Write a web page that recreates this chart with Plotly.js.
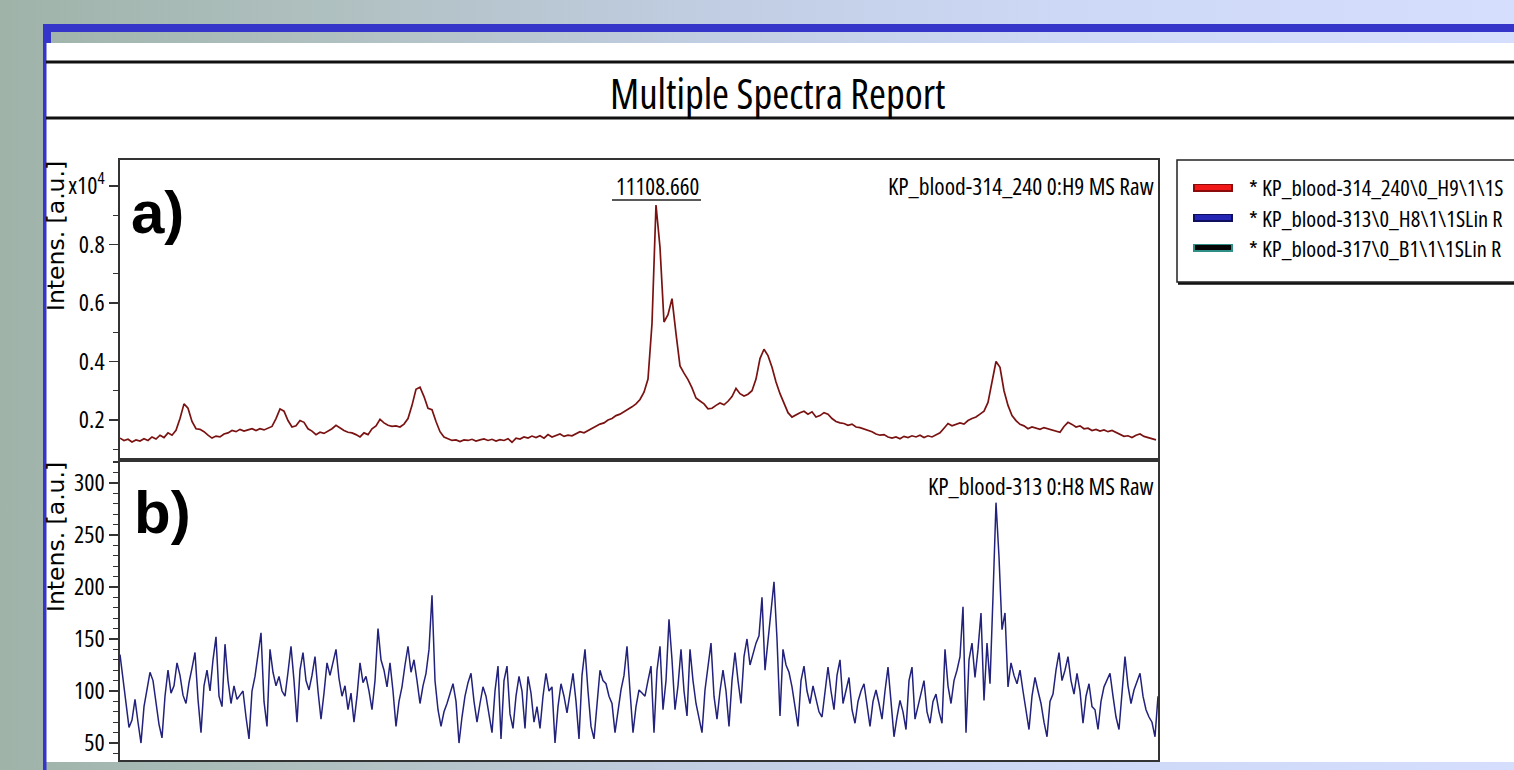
<!DOCTYPE html>
<html>
<head>
<meta charset="utf-8">
<script src="https://cdn.plot.ly/plotly-3.0.1.min.js"></script>
<style>
  html, body { margin: 0; padding: 0; width: 1514px; height: 770px; overflow: hidden; }
  body { background: linear-gradient(to right, #9fb3a9 0%, #aebfbe 20%, #c0cce0 45%, #cdd8f6 70%, #d5defd 100%); }
  #chart { width: 1514px; height: 770px; }
  text[style*="Open Sans"], tspan[style*="Open Sans"] { font-stretch: 75%; }
</style>
</head>
<body>
<div id="chart"></div>
<script>
// ---------------- DATA ----------------
// Spectrum a) KP_blood-314_240 0:H9 (intensity, a.u.), m/z grid starts at 2000, step ~67.8
const mzStartA = 2000;
const mzStepA = 67.823;
const intensA = [
  1380,1300,1340,1250,1320,1280,1360,1300,1420,1350,1480,1400,1560,1480,1650,
  2050,2550,2400,1950,1700,1680,1600,1480,1380,1450,1420,1520,1560,1640,1600,
  1680,1620,1660,1700,1640,1700,1660,1720,1780,2050,2380,2300,1980,1760,1800,
  1980,1920,1700,1620,1500,1580,1540,1620,1700,1820,1720,1640,1580,1560,1500,
  1420,1560,1500,1700,1800,2020,1900,1820,1780,1800,1760,1860,2050,2500,3050,
  3120,2800,2400,2350,1950,1600,1420,1360,1300,1320,1260,1320,1300,1340,1280,
  1320,1350,1300,1340,1280,1330,1300,1360,1240,1380,1350,1420,1380,1450,1400,
  1460,1380,1500,1420,1460,1520,1440,1480,1460,1540,1600,1560,1640,1700,1780,
  1860,1900,2000,2050,2150,2200,2280,2350,2450,2550,2700,2950,3400,5300,9350,
  7900,5350,5600,6150,4950,3850,3600,3380,3100,2750,2650,2550,2380,2400,2500,
  2580,2520,2640,2800,3080,2900,2820,2880,3000,3400,4100,4420,4200,3800,3300,
  2900,2550,2250,2100,2180,2250,2300,2200,2280,2100,2150,2250,2200,2050,1950,
  1900,1880,1820,1860,1760,1740,1700,1640,1600,1520,1480,1500,1420,1380,1420,
  1360,1440,1400,1460,1420,1480,1400,1460,1420,1500,1560,1720,1880,1800,1850,
  1900,1860,1980,2050,2100,2200,2300,2600,3300,4000,3800,3000,2500,2150,1980,
  1850,1800,1700,1760,1720,1680,1740,1700,1640,1600,1580,1780,1920,1850,1760,
  1800,1700,1720,1640,1680,1620,1660,1600,1640,1580,1500,1440,1460,1400,1480,
  1520,1440,1400,1360,1320
];

// Spectrum b) KP_blood-313 0:H8 (intensity, a.u.), m/z grid starts at 2000, step ~50.9
const mzStartB = 2000;
const mzStepB = 50.867;
const intensB = [
  135,110,90,65,72,92,70,50,85,100,118,110,88,68,55,95,120,98,105,127,
  115,96,88,108,122,137,92,60,105,120,100,130,152,95,85,145,110,88,105,92,
  96,100,75,54,100,114,135,156,90,66,140,118,105,114,100,95,118,143,110,70,
  120,137,110,101,115,133,100,73,98,127,115,128,140,112,95,105,82,98,70,95,
  127,108,114,100,82,110,160,130,120,104,127,100,66,90,104,125,143,118,130,110,
  88,105,117,140,192,110,82,66,80,88,98,107,90,50,75,95,108,117,90,70,
  88,104,95,75,60,100,124,54,110,124,78,64,95,114,100,64,114,98,70,85,
  64,95,117,100,104,50,85,107,95,79,100,117,90,54,115,140,100,66,54,90,
  120,110,107,95,88,60,80,101,115,143,100,60,85,101,98,95,110,124,60,120,
  143,82,110,169,130,82,105,140,100,76,140,110,88,75,60,101,125,146,95,73,
  100,120,100,66,110,137,110,88,133,150,125,135,146,153,190,120,149,175,205,150,
  76,140,125,118,104,85,66,110,124,100,88,105,91,80,75,100,123,100,82,115,
  130,88,100,113,82,69,90,100,107,85,66,90,101,88,73,100,123,90,56,75,
  91,80,63,110,123,73,85,100,110,80,69,90,97,80,69,140,105,88,110,120,
  133,181,60,130,146,113,140,175,91,146,107,191,281,229,159,175,104,127,115,107,
  120,100,82,63,95,113,100,88,70,56,90,97,120,137,110,120,133,110,97,117,
  100,69,95,107,85,82,63,90,104,110,117,95,75,63,100,133,105,88,101,110,
  117,95,82,75,70,56,95
];

// Tick labels
const tickValsA = [2000, 4000, 6000, 8000, 10000];
const tickTextA = ["0.2", "0.4", "0.6", "0.8", "x10<sup>4</sup>"];
const tickValsB = [50, 100, 150, 200, 250, 300];
const tickTextB = ["50", "100", "150", "200", "250", "300"];

// Texts
const reportTitle = "Multiple Spectra Report";
const spectrumNameA = "KP_blood-314_240 0:H9 MS Raw";
const spectrumNameB = "KP_blood-313 0:H8 MS Raw";
const peakLabelA = "11108.660";
const yTitle = "Intens. [a.u.]";
const legendNames = [
  "* KP_blood-314_240\\0_H9\\1\\1S",
  "* KP_blood-313\\0_H8\\1\\1SLin R",
  "* KP_blood-317\\0_B1\\1\\1SLin R"
];
const legendColors = [
  {outer: "#8c0a0a", inner: "#f01818"},
  {outer: "#0e0e5e", inner: "#2626b4"},
  {outer: "#2f8f86", inner: "#060606"}
];

// ---------------- LAYOUT HELPERS (page pixels -> paper fractions) ----------------
const W = 1514, H = 770;
const X = px => px / W;
const Y = py => 1 - py / H;

const NARROW = "Open Sans, Liberation Sans, sans-serif";   // condensed via CSS font-stretch
const WIDE = "DejaVu Sans, Liberation Sans, sans-serif";
const SANS = "Liberation Sans, Arial, sans-serif";

const traces = [
  {
    type: "scatter", mode: "lines", name: "KP_blood-314_240",
    x0: mzStartA, dx: mzStepA, y: intensA,
    xaxis: "x", yaxis: "y",
    line: {color: "#7a1212", width: 1.7},
    showlegend: false, hoverinfo: "skip"
  },
  {
    type: "scatter", mode: "lines", name: "KP_blood-313",
    x0: mzStartB, dx: mzStepB, y: intensB,
    xaxis: "x2", yaxis: "y2",
    line: {color: "#22227c", width: 1.5},
    showlegend: false, hoverinfo: "skip"
  }
];

const axisLine = {showline: true, mirror: true, linecolor: "#333", linewidth: 1.6, showgrid: false, zeroline: false};

const shapes = [
  {type: "rect", xref: "paper", yref: "paper", x0: X(46), x1: X(1520), y0: Y(762), y1: Y(43), fillcolor: "#ffffff", line: {width: 0}, layer: "below"},
  {type: "rect", xref: "paper", yref: "paper", x0: X(43), x1: X(1520), y0: Y(32), y1: Y(24), fillcolor: "#3535c9", line: {width: 0}, layer: "below"},
  {type: "rect", xref: "paper", yref: "paper", x0: X(43), x1: X(51), y0: Y(43), y1: Y(24), fillcolor: "#3535c9", line: {width: 0}, layer: "below"},
  {type: "rect", xref: "paper", yref: "paper", x0: X(43), x1: X(46.5), y0: Y(770), y1: Y(43), fillcolor: "#3535c9", line: {width: 0}, layer: "below"},
  {type: "line", xref: "paper", yref: "paper", x0: X(46), x1: X(1520), y0: Y(62), y1: Y(62), line: {color: "#111", width: 3}},
  {type: "line", xref: "paper", yref: "paper", x0: X(46), x1: X(1520), y0: Y(118), y1: Y(118), line: {color: "#111", width: 3}},
  {type: "line", xref: "paper", yref: "paper", x0: X(612), x1: X(701), y0: Y(200), y1: Y(200), line: {color: "#222", width: 1.5}},
  {type: "rect", xref: "paper", yref: "paper", x0: X(1177), x1: X(1530), y0: Y(282), y1: Y(160), fillcolor: "#ffffff", line: {color: "#222", width: 1.5}},
  {type: "line", xref: "paper", yref: "paper", x0: X(1178), x1: X(1520), y0: Y(283.5), y1: Y(283.5), line: {color: "#111", width: 2.5}}
];

const legendY = [188, 218, 248];
legendColors.forEach((c, i) => {
  shapes.push({type: "line", xref: "paper", yref: "paper", x0: X(1193), x1: X(1233), y0: Y(legendY[i]), y1: Y(legendY[i]), line: {color: c.outer, width: 8}});
  shapes.push({type: "line", xref: "paper", yref: "paper", x0: X(1195), x1: X(1231), y0: Y(legendY[i] - 0.5), y1: Y(legendY[i] - 0.5), line: {color: c.inner, width: 5}});
});

const annotations = [
  {text: reportTitle, xref: "paper", yref: "paper", x: X(777), y: Y(93), xanchor: "center", yanchor: "middle", showarrow: false, font: {family: NARROW, size: 41, color: "#000"}},
  {text: "a)", xref: "paper", yref: "paper", x: X(157), y: Y(213), xanchor: "center", yanchor: "middle", showarrow: false, font: {family: SANS, size: 60, color: "#000", weight: "bold"}},
  {text: "b)", xref: "paper", yref: "paper", x: X(162), y: Y(512), xanchor: "center", yanchor: "middle", showarrow: false, font: {family: SANS, size: 60, color: "#000", weight: "bold"}},
  {text: peakLabelA, xref: "paper", yref: "paper", x: X(657), y: Y(186), xanchor: "center", yanchor: "middle", showarrow: false, font: {family: NARROW, size: 23, color: "#000"}},
  {text: spectrumNameA, xref: "paper", yref: "paper", x: X(1156), y: Y(186), xanchor: "right", yanchor: "middle", showarrow: false, font: {family: NARROW, size: 23.5, color: "#000"}},
  {text: spectrumNameB, xref: "paper", yref: "paper", x: X(1156), y: Y(486), xanchor: "right", yanchor: "middle", showarrow: false, font: {family: NARROW, size: 23.5, color: "#000"}},
  {text: yTitle, xref: "paper", yref: "paper", x: X(56), y: Y(236), xanchor: "center", yanchor: "middle", textangle: -90, showarrow: false, font: {family: WIDE, size: 23.5, color: "#000"}},
  {text: yTitle, xref: "paper", yref: "paper", x: X(56), y: Y(537), xanchor: "center", yanchor: "middle", textangle: -90, showarrow: false, font: {family: WIDE, size: 23.5, color: "#000"}}
];
legendNames.forEach((t, i) => {
  annotations.push({text: t, xref: "paper", yref: "paper", x: X(1247), y: Y(legendY[i]), xanchor: "left", yanchor: "middle", showarrow: false, font: {family: NARROW, size: 22.5, color: "#000"}});
});

const layout = {
  width: W, height: H,
  margin: {l: 0, r: 0, t: 0, b: 0, pad: 0},
  paper_bgcolor: "rgba(0,0,0,0)",
  plot_bgcolor: "rgba(0,0,0,0)",
  showlegend: false,
  xaxis: Object.assign({domain: [X(120), X(1158)], range: [2000, 19600], anchor: "y", showticklabels: false, ticks: ""}, axisLine),
  yaxis: Object.assign({
    domain: [Y(460), Y(160)], range: [632, 10889], anchor: "x",
    tickmode: "array", tickvals: tickValsA, ticktext: tickTextA,
    ticks: "outside", ticklen: 9, tickwidth: 1.3, tickcolor: "#333",
    minor: {tickmode: "linear", tick0: 0, dtick: 1000, ticks: "outside", ticklen: 5, tickwidth: 1.2, tickcolor: "#333"},
    tickfont: {family: NARROW, size: 24, color: "#000"}
  }, axisLine),
  xaxis2: Object.assign({domain: [X(120), X(1158)], range: [2000, 19600], anchor: "y2", showticklabels: false, ticks: ""}, axisLine),
  yaxis2: Object.assign({
    domain: [Y(760), Y(460)], range: [33.7, 322], anchor: "x2",
    tickmode: "array", tickvals: tickValsB, ticktext: tickTextB,
    ticks: "outside", ticklen: 9, tickwidth: 1.3, tickcolor: "#333",
    minor: {tickmode: "linear", tick0: 0, dtick: 10, ticks: "outside", ticklen: 5, tickwidth: 1.2, tickcolor: "#333"},
    tickfont: {family: NARROW, size: 24, color: "#000"}
  }, axisLine),
  shapes: shapes,
  annotations: annotations
};

Plotly.newPlot("chart", traces, layout, {staticPlot: true, displayModeBar: false});
</script>
</body>
</html>
